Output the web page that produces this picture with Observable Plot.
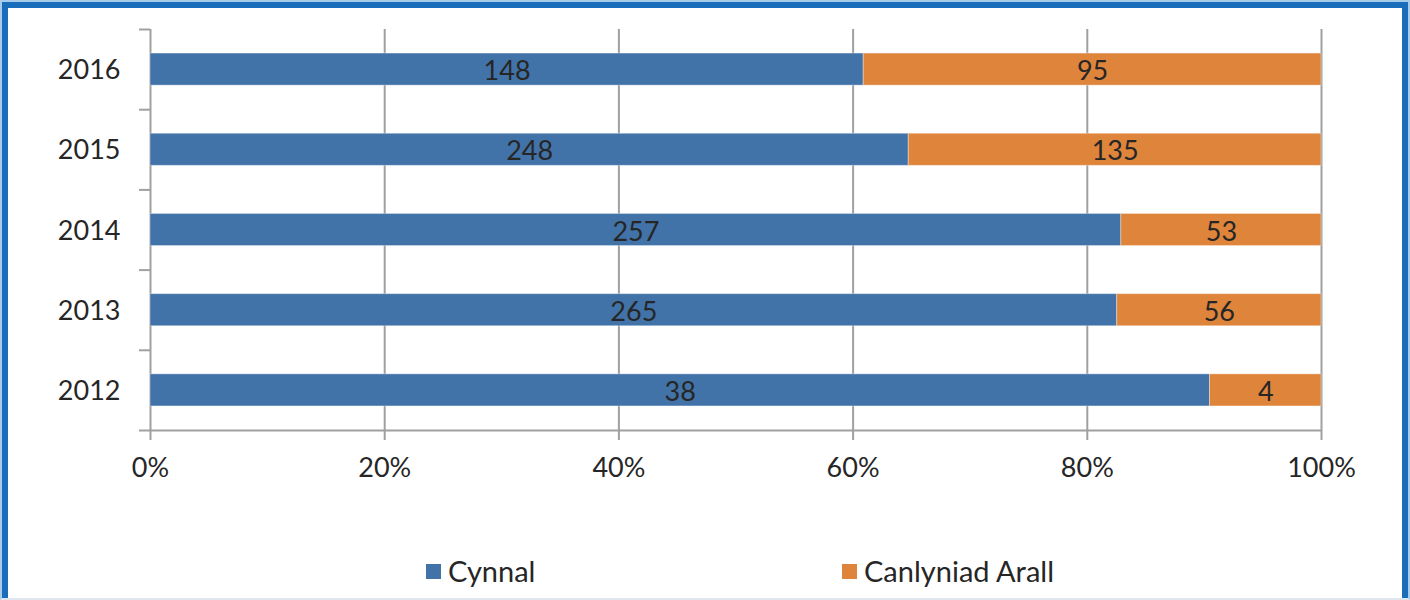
<!DOCTYPE html>
<html>
<head>
<meta charset="utf-8">
<script src="https://cdn.jsdelivr.net/npm/d3@7"></script>
<script src="https://cdn.jsdelivr.net/npm/@observablehq/plot@0.6"></script>
<style>
  html, body { margin: 0; padding: 0; background: #fff; }
  #wrap { position: relative; width: 1410px; height: 600px; overflow: hidden; font-family: Lato, "Open Sans", sans-serif; color: #262626; }
  #chart { position: absolute; left: 0; top: 0; }
  #frameOuter { position: absolute; left: 0; top: 0; width: 1410px; height: 600px; box-sizing: border-box;
    border-top: 2px solid #a8cbea; border-left: 2px solid #a8cbea; border-right: 2px solid #a8cbea; border-bottom: 2px solid #dfe6ee; pointer-events: none; }
  #frameInner { position: absolute; left: 2px; top: 2px; width: 1406px; height: 610px; box-sizing: border-box;
    border: 6px solid #1a6dbb; pointer-events: none; }
  .leg { position: absolute; top: 553px; font-size: 29px; line-height: 36px; display: flex; align-items: center; white-space: nowrap; }
  .sw { display: inline-block; width: 15px; height: 15px; margin-right: 7px; }
</style>
</head>
<body>
<div id="wrap">
  <div id="chart"></div>
  <div id="legend"></div>
  <div id="frameInner"></div>
  <div id="frameOuter"></div>
</div>
<script>
const years = [2012, 2013, 2014, 2015, 2016];
const cynnal = [38, 265, 257, 248, 148];
const arall = [4, 56, 53, 135, 95];
const seriesNames = ["Cynnal", "Canlyniad Arall"];
const seriesColors = ["#4273a8", "#de843b"];
const xTicks = [0, 0.2, 0.4, 0.6, 0.8, 1];

const rows = [];
years.forEach((yr, i) => {
  rows.push({year: yr, idx: i, series: seriesNames[0], value: cynnal[i]});
  rows.push({year: yr, idx: i, series: seriesNames[1], value: arall[i]});
});

const font = "Lato, 'Open Sans', sans-serif";
const chart = Plot.plot({
  width: 1410,
  height: 500,
  marginLeft: 150,
  marginRight: 89,
  marginTop: 29,
  marginBottom: 70,
  style: {fontFamily: font, fontSize: "27px", color: "#262626", background: "transparent"},
  x: {domain: [0, 1], axis: null},
  y: {domain: [0, years.length], axis: null},
  color: {domain: seriesNames, range: seriesColors},
  marks: [
    Plot.gridX(xTicks, {stroke: "#a0a0a0", strokeOpacity: 1, strokeWidth: 2}),
    Plot.ruleY([0], {stroke: "#a0a0a0", strokeWidth: 2}),
    Plot.axisX({ticks: xTicks, tickFormat: d3.format(".0%"), tickSize: 10, tickPadding: 17,
      stroke: "#a0a0a0", strokeWidth: 2, strokeOpacity: 1, fontSize: 27, fill: "#262626", label: null}),
    Plot.axisY({ticks: d3.range(years.length + 1), tickFormat: () => "", tickSize: 11,
      stroke: "#a0a0a0", strokeWidth: 2, strokeOpacity: 1, label: null}),
    Plot.axisY({ticks: years.map((d, i) => i + 0.5), tickFormat: v => String(years[Math.floor(v)]),
      tickSize: 0, tickPadding: 30, fontSize: 27, fill: "#262626", label: null, dy: 1}),
    Plot.rectX(rows, Plot.stackX({
      x: "value", y1: d => d.idx + 0.3, y2: d => d.idx + 0.7, fill: "series",
      offset: "normalize", order: seriesNames, stroke: "#ffffff", strokeOpacity: 0.35, strokeWidth: 1
    })),
    Plot.text(rows, Plot.stackX({
      x: "value", y: d => d.idx + 0.5, text: "value", z: "series",
      offset: "normalize", order: seriesNames, fill: "#262626", fontSize: 27, dy: 2
    }))
  ]
});
document.getElementById("chart").appendChild(chart);

const legend = document.getElementById("legend");
const legLefts = [426, 842];
seriesNames.forEach((name, i) => {
  const el = document.createElement("div");
  el.className = "leg";
  el.style.left = legLefts[i] + "px";
  el.innerHTML = `<span class="sw" style="background:${seriesColors[i]}"></span><span>${name}</span>`;
  legend.appendChild(el);
});
</script>
</body>
</html>
